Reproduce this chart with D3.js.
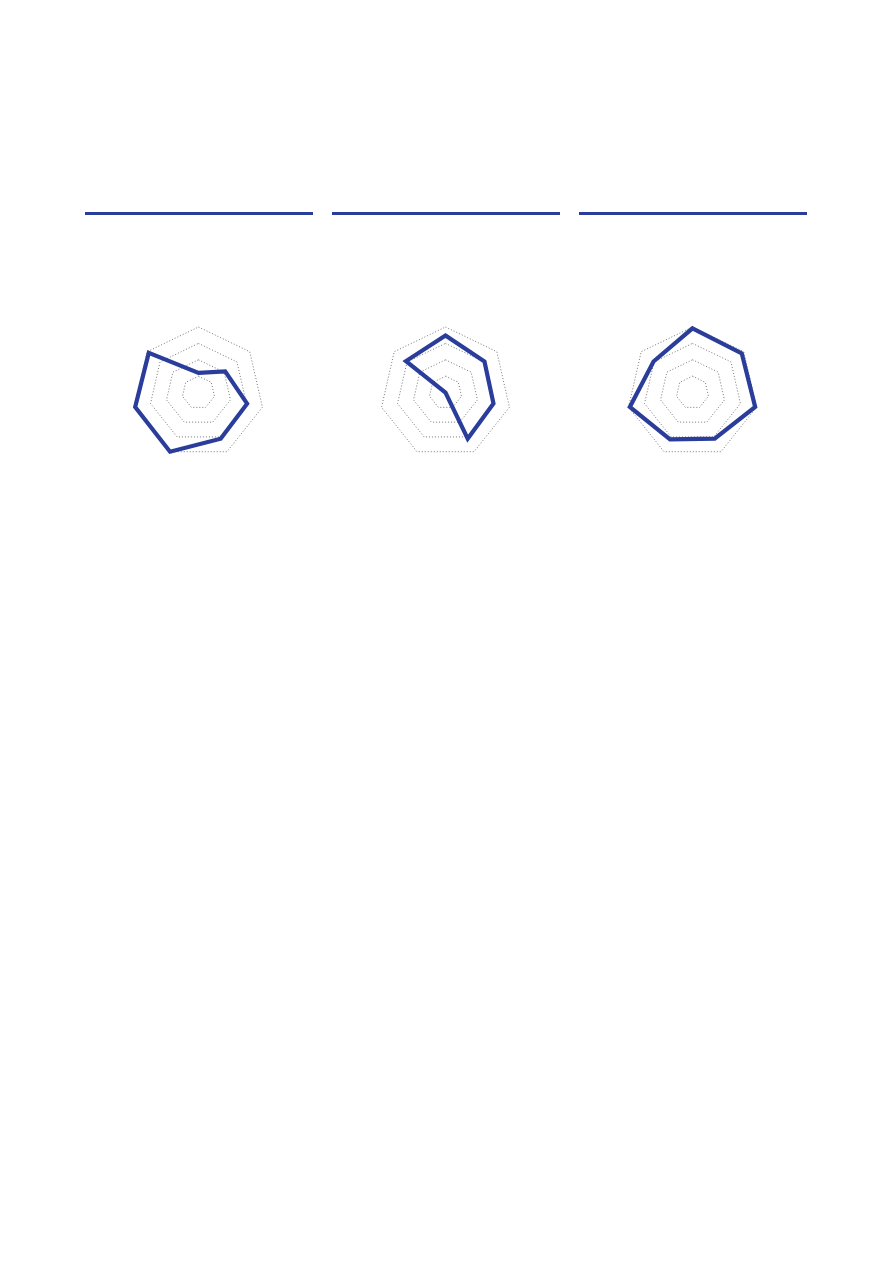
<!DOCTYPE html>
<html lang="en">
<head>
  <meta charset="UTF-8">
  <title>Radar</title>
  <style>
    html, body { margin: 0; padding: 0; background: #fff; }
    svg { display: block; }
  </style>
</head>
<body>
  <svg id="chart" width="893" height="1263"></svg>
  <script src="https://cdn.jsdelivr.net/npm/d3@7"></script>
  <script>

  // seven axes per radar, values on a 0-100 scale
  var axes = ['A', 'B', 'C', 'D', 'E', 'F', 'G'];
  var panels = ['p1', 'p2', 'p3'];
  var series1 = [30, 52, 76, 78, 100, 99, 97];
  var series2 = [87, 76, 75, 78, 0, 0, 77];
  var series3 = [98, 96, 98, 78, 79, 98, 76];
  var gridLevels = [25, 50, 75, 100];

  var seriesList = [series1, series2, series3];

  var blue = '#2a3d9a';
  var radius = 65.6;
  var centerY = 392.6;

  const svg = d3.select('#chart');

  // panel columns
  var x = d3.scaleBand()
    .domain(panels)
    .range([85, 807])
    .paddingInner(0.077);

  var r = d3.scaleLinear()
    .domain([0, 100])
    .range([0, radius]);

  var angle = d3.scalePoint()
    .domain(axes)
    .range([0, 2 * Math.PI * (axes.length - 1) / axes.length]);

  var line = d3.lineRadial()
    .angle((d, i) => angle(axes[i]))
    .radius(d => r(d))
    .curve(d3.curveLinearClosed);

  // header rules
  svg.append('g')
    .selectAll('rect')
    .data(panels)
    .enter()
    .append('rect')
    .attr('x', d => x(d))
    .attr('y', 212)
    .attr('width', x.bandwidth())
    .attr('height', 3)
    .attr('fill', blue);

  const radars = svg.append('g')
    .selectAll('g')
    .data(panels)
    .enter()
    .append('g')
    .attr('transform', d => `translate(${x(d) + x.bandwidth() / 2 - 0.5}, ${centerY})`);

  // dotted grid heptagons
  radars.append('g')
    .selectAll('path')
    .data(gridLevels)
    .enter()
    .append('path')
    .attr('d', lvl => line(axes.map(() => lvl)))
    .attr('fill', 'none')
    .attr('stroke', '#666')
    .attr('stroke-width', 0.9)
    .attr('stroke-dasharray', '1 2');

  // data outline
  radars.append('path')
    .attr('d', (d, i) => line(seriesList[i]))
    .attr('fill', 'none')
    .attr('stroke', blue)
    .attr('stroke-width', 4.2)
    .attr('stroke-linejoin', 'miter');

  </script>
</body>
</html>
